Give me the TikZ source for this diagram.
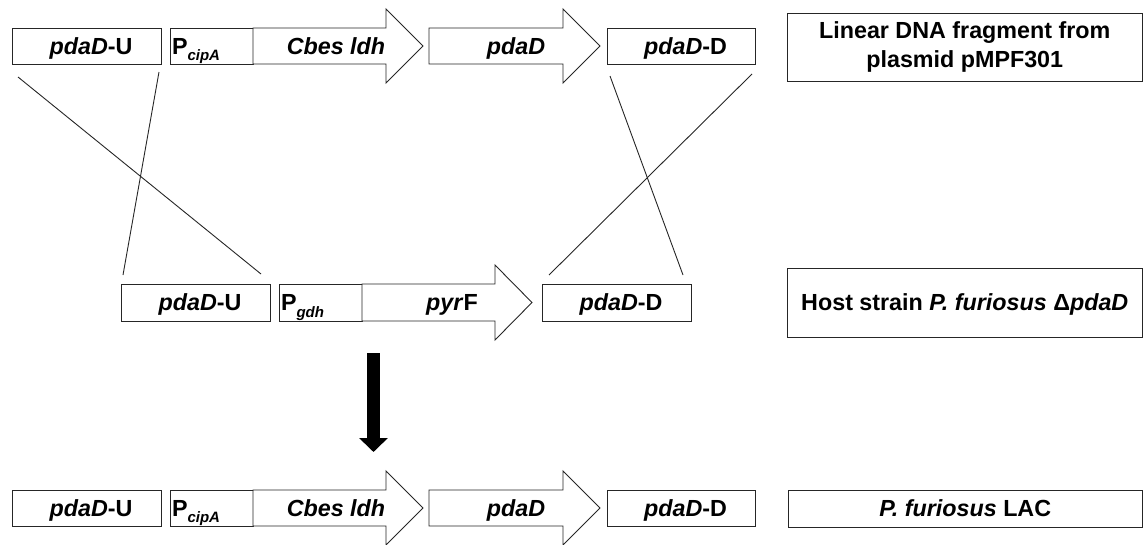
\documentclass[tikz,border=0pt]{standalone}
\usepackage{fontspec}
\setmainfont{Liberation Sans}
\usetikzlibrary{arrows.meta}
\newcommand\sub[1]{\raisebox{-6.5pt}{\fontsize{15}{15}\selectfont\itshape #1}}
\newcommand\pad{\hspace*{9pt}}
\begin{document}
\begin{tikzpicture}[x=1pt,y=-1pt,
  txt/.style={inner sep=0pt, font=\fontsize{23.3}{29}\selectfont\bfseries},
  box/.style={txt, draw=black!85, line width=0.9pt, text height=16.5pt, text depth=0pt},
  gene/.style={draw=black!85, line width=0.9pt, fill=white},
  lbl/.style={txt, text height=16.5pt, text depth=0pt},
  cross/.style={draw=black!85, line width=0.9pt},
  bigarrow/.style={draw=black, line width=13pt, -{Triangle[width=28pt,length=14pt]}}
]
\useasboundingbox (0,0) rectangle (1144,544);

% ---------- top row: linear DNA fragment ----------
\node[box, minimum width=149pt, minimum height=36pt] (u1) at (86.5,46) {\pad\textit{pdaD}-U};
\node[box, minimum width=83pt, minimum height=36pt, text width=79pt, align=left] (p1) at (211.5,46) {P\sub{cipA}};
\draw[gene] (253,28) -- (386,28) -- (386,9) -- (423,46) -- (386,83) -- (386,64) -- (253,64) -- cycle;
\node[lbl] (c1) at (336,46) {\textit{Cbes ldh}};
\draw[gene] (429,28) -- (563,28) -- (563,9) -- (600,46) -- (563,83) -- (563,64) -- (429,64) -- cycle;
\node[lbl] (g1) at (516,46) {\textit{pdaD}};
\node[box, minimum width=148pt, minimum height=36pt] (d1) at (681,46) {\pad\textit{pdaD}-D};
\node[txt, draw=black!85, line width=0.9pt, minimum width=355.5pt, minimum height=68pt, align=center, yshift=-1pt] (r1) at (964.75,46) {Linear DNA fragment from\\plasmid pMPF301};

% ---------- middle row: host strain ----------
\node[box, minimum width=149pt, minimum height=37pt] (u2) at (195.5,302.5) {\pad\textit{pdaD}-U};
\node[box, minimum width=83pt, minimum height=37pt, text width=79pt, align=left] (p2) at (320.5,302.5) {P\sub{gdh}};
\draw[gene] (362,284) -- (495,284) -- (495,265) -- (532,302.5) -- (495,340) -- (495,321) -- (362,321) -- cycle;
\node[lbl] (f2) at (452,302.5) {\textit{pyr}F};
\node[box, minimum width=149pt, minimum height=37pt] (d2) at (616.5,302.5) {\pad\textit{pdaD}-D};
\node[box, minimum width=355.5pt, minimum height=69pt] (r2) at (964.75,302.5) {Host strain \textit{P. furiosus} Δ\textit{pdaD}};

% ---------- crossover lines ----------
\coordinate (a1) at (18,77);   \coordinate (a2) at (261,274);
\coordinate (b1) at (159,72);  \coordinate (b2) at (123,275);
\coordinate (e1) at (610,76);  \coordinate (e2) at (683,275);
\coordinate (h1) at (752,74);  \coordinate (h2) at (549,275);
\draw[cross] (a1) -- (a2);
\draw[cross] (b1) -- (b2);
\draw[cross] (e1) -- (e2);
\draw[cross] (h1) -- (h2);

% ---------- big arrow ----------
\coordinate (s1) at (373.5,353);
\coordinate (s2) at (373.5,452);
\draw[bigarrow] (s1) -- (s2);

% ---------- bottom row: P. furiosus LAC ----------
\node[box, minimum width=149pt, minimum height=36pt] (u3) at (86.5,508) {\pad\textit{pdaD}-U};
\node[box, minimum width=83pt, minimum height=36pt, text width=79pt, align=left] (p3) at (211.5,508) {P\sub{cipA}};
\draw[gene] (253,490) -- (386,490) -- (386,471) -- (423,508) -- (386,545) -- (386,526) -- (253,526) -- cycle;
\node[lbl] (c3) at (336,508) {\textit{Cbes ldh}};
\draw[gene] (429,490) -- (563,490) -- (563,471) -- (600,508) -- (563,545) -- (563,526) -- (429,526) -- cycle;
\node[lbl] (g3) at (516,508) {\textit{pdaD}};
\node[box, minimum width=148pt, minimum height=36pt] (d3) at (681,508) {\pad\textit{pdaD}-D};
\node[box, minimum width=354.5pt, minimum height=37pt] (r3) at (965.25,508.5) {\textit{P. furiosus} LAC};
\end{tikzpicture}
\end{document}
